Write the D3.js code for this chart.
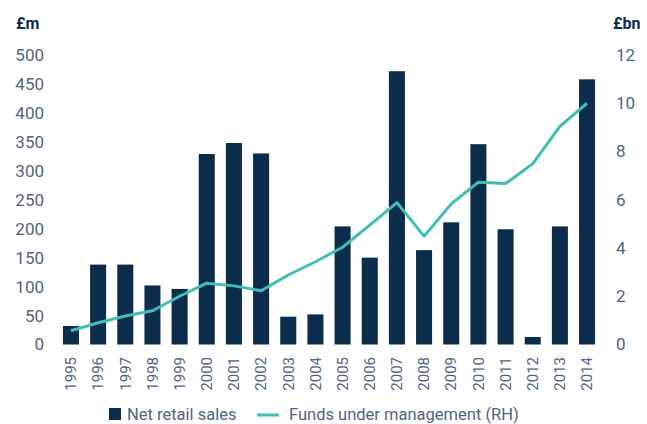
<!DOCTYPE html>
<html>
<head>
<meta charset="utf-8">
<script src="https://cdn.jsdelivr.net/npm/d3@7"></script>
<style>
  body { margin: 0; background: #fff; }
  svg text { font-family: Roboto, "Noto Sans", sans-serif; }
</style>
</head>
<body>
<svg id="chart"></svg>
<script>
const years = ["1995","1996","1997","1998","1999","2000","2001","2002","2003","2004",
               "2005","2006","2007","2008","2009","2010","2011","2012","2013","2014"];
const netSales = [32, 138, 138, 102, 96, 329, 348, 330, 48, 52,
                  204, 150, 472, 163, 211, 346, 199, 13, 204, 458];
const funds = [0.57, 0.9, 1.18, 1.4, 2.0, 2.54, 2.43, 2.23, 2.88, 3.43,
               4.03, 4.95, 5.88, 4.49, 5.83, 6.73, 6.67, 7.49, 9.04, 10.0];
const leftTicks = [0, 50, 100, 150, 200, 250, 300, 350, 400, 450, 500];
const rightTicks = [0, 2, 4, 6, 8, 10, 12];

const width = 647, height = 424;
const navy = "#0c2c4c", teal = "#3fbfb3", tickCol = "#52637f";

const svg = d3.select("#chart")
    .attr("width", width)
    .attr("height", height);

const x = d3.scaleBand()
    .domain(years)
    .range([51.8, 606.2])
    .padding(0.41);

const yL = d3.scaleLinear().domain([0, 500]).range([344.5, 55]);
const yR = d3.scaleLinear().domain([0, 12]).range([344.5, 55]);

// left axis labels
svg.append("g")
    .attr("transform", "translate(44,0)")
    .call(d3.axisLeft(yL).tickValues(leftTicks).tickSize(0).tickPadding(0))
    .call(g => g.select(".domain").remove())
    .call(g => g.selectAll("text")
        .attr("fill", tickCol)
        .style("font-size", "17px"));

// right axis labels
svg.append("g")
    .attr("transform", "translate(616,0)")
    .call(d3.axisRight(yR).tickValues(rightTicks).tickSize(0).tickPadding(0))
    .call(g => g.select(".domain").remove())
    .call(g => g.selectAll("text")
        .attr("fill", tickCol)
        .style("font-size", "17px"));

// bars
svg.append("g")
    .selectAll("rect")
    .data(netSales)
    .join("rect")
        .attr("x", (d, i) => x(years[i]))
        .attr("y", d => yL(d))
        .attr("width", x.bandwidth())
        .attr("height", d => yL(0) - yL(d))
        .attr("fill", navy);

// funds line
const line = d3.line()
    .x((d, i) => x(years[i]) + x.bandwidth() / 2)
    .y(d => yR(d));

svg.append("path")
    .datum(funds)
    .attr("d", line)
    .attr("fill", "none")
    .attr("stroke", teal)
    .attr("stroke-width", 3)
    .attr("stroke-linejoin", "round");

// x axis labels (rotated)
svg.append("g")
    .attr("transform", "translate(0,352)")
    .call(d3.axisBottom(x).tickSize(0).tickPadding(0))
    .call(g => g.select(".domain").remove())
    .call(g => g.selectAll("text")
        .attr("fill", tickCol)
        .style("font-size", "15px")
        .attr("text-anchor", "end")
        .attr("dy", "0.35em")
        .attr("x", -5)
        .attr("y", 0)
        .attr("transform", "rotate(-90)"));

// unit labels
svg.append("text")
    .attr("x", 16).attr("y", 29)
    .attr("fill", navy)
    .style("font-size", "16px")
    .style("font-weight", "bold")
    .text("£m");

svg.append("text")
    .attr("x", 613).attr("y", 29)
    .attr("fill", navy)
    .style("font-size", "16px")
    .style("font-weight", "bold")
    .text("£bn");

// legend
const legend = svg.append("g");
legend.append("rect")
    .attr("x", 109).attr("y", 408)
    .attr("width", 12).attr("height", 12)
    .attr("fill", navy);
legend.append("text")
    .attr("x", 127).attr("y", 420)
    .attr("fill", tickCol)
    .style("font-size", "16.5px")
    .text("Net retail sales");
legend.append("line")
    .attr("x1", 257).attr("x2", 279)
    .attr("y1", 415).attr("y2", 415)
    .attr("stroke", teal)
    .attr("stroke-width", 3);
legend.append("text")
    .attr("x", 289).attr("y", 420)
    .attr("fill", tickCol)
    .style("font-size", "16.5px")
    .text("Funds under management (RH)");
</script>
</body>
</html>
